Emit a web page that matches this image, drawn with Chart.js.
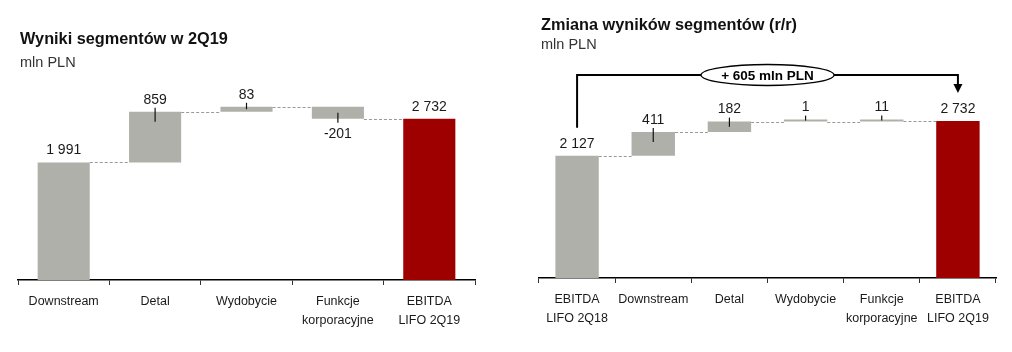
<!DOCTYPE html>
<html>
<head>
<meta charset="utf-8">
<script src="https://cdn.jsdelivr.net/npm/chart.js@4"></script>
<style>
  body { margin: 0; background: #fff; font-family: "Liberation Sans", Arial, sans-serif; }
  .panel { position: absolute; top: 0; height: 352px; }
  .title { position: absolute; font-weight: bold; font-size: 16.3px; color: #111; white-space: nowrap; }
  .sub { position: absolute; font-size: 14.5px; color: #333; white-space: nowrap; }
</style>
</head>
<body>
<div class="panel" style="left:0;width:500px"><canvas id="leftChart"></canvas></div>
<div class="panel" style="left:520px;width:492px"><canvas id="rightChart"></canvas></div>
<div class="title" style="left:20px;top:29px">Wyniki segmentów w 2Q19</div>
<div class="sub" style="left:20px;top:54px">mln PLN</div>
<div class="title" style="left:541px;top:15px">Zmiana wyników segmentów (r/r)</div>
<div class="sub" style="left:541px;top:36px">mln PLN</div>
<script>
const leftCategories = ['Downstream', 'Detal', 'Wydobycie', ['Funkcje', 'korporacyjne'], ['EBITDA', 'LIFO 2Q19']];
const leftValues = [1991, 859, 83, -201, 2732];
const leftKinds = ['total', 'delta', 'delta', 'delta', 'total'];

const rightCategories = [['EBITDA', 'LIFO 2Q18'], 'Downstream', 'Detal', 'Wydobycie', ['Funkcje', 'korporacyjne'], ['EBITDA', 'LIFO 2Q19']];
const rightValues = [2127, 411, 182, 1, 11, 2732];
const rightKinds = ['total', 'delta', 'delta', 'delta', 'delta', 'total'];
const rightChangeLabel = '+ 605 mln PLN';

const GRAY = '#b0b0aa';
const RED = '#9e0000';
const FONT = '"Liberation Sans", Arial, sans-serif';

function buildBars(values, kinds) {
  let cum = 0;
  return values.map((v, i) => {
    if (kinds[i] === 'total') { cum = v; return [0, v]; }
    const start = cum;
    cum += v;
    return [start, cum];
  });
}

function fmt(v) {
  const s = String(Math.abs(v)).replace(/\B(?=(\d{3})+(?!\d))/g, ' ');
  return (v < 0 ? '-' : '') + s;
}

const waterfallPlugin = {
  id: 'waterfall',
  afterDatasetsDraw(chart, args, opts) {
    const { ctx } = chart;
    const y = chart.scales.y;
    const meta = chart.getDatasetMeta(0);
    const bars = chart.data.datasets[0].data;
    const els = meta.data;
    ctx.save();

    // dashed connectors between bars
    ctx.strokeStyle = '#999';
    ctx.lineWidth = 1;
    ctx.setLineDash([3, 2]);
    for (let i = 0; i < els.length - 1; i++) {
      const a = els[i], b = els[i + 1];
      const py = Math.round(y.getPixelForValue(bars[i][1])) + 0.5;
      ctx.beginPath();
      ctx.moveTo(a.x + a.width / 2, py);
      ctx.lineTo(b.x - b.width / 2, py);
      ctx.stroke();
    }
    ctx.setLineDash([]);

    // value labels + tick marks
    ctx.font = '14px ' + FONT;
    ctx.fillStyle = '#1a1a1a';
    ctx.textAlign = 'center';
    ctx.textBaseline = 'middle';
    ctx.strokeStyle = '#111';
    ctx.lineWidth = 1.2;
    els.forEach((el, i) => {
      const v = opts.values[i];
      const top = Math.min(el.y, el.base);
      const bottom = Math.max(el.y, el.base);
      const h = bottom - top;
      const inside = Math.max(1, Math.min(10, h / 2));
      if (v >= 0) {
        ctx.fillText(fmt(v), el.x, top - 12);
        if (opts.kinds[i] === 'delta') {
          ctx.beginPath();
          ctx.moveTo(el.x, top - 4);
          ctx.lineTo(el.x, top + inside);
          ctx.stroke();
        }
      } else {
        ctx.fillText(fmt(v), el.x, bottom + 15);
        ctx.beginPath();
        ctx.moveTo(el.x, bottom + 4);
        ctx.lineTo(el.x, bottom - inside);
        ctx.stroke();
      }
    });

    // change bracket over the chart
    if (opts.bracket) {
      const first = els[0], last = els[els.length - 1];
      const firstTop = Math.min(first.y, first.base);
      const lastTop = Math.min(last.y, last.base);
      const by = chart.chartArea.top - 19;
      const tipY = lastTop - 28;
      ctx.strokeStyle = '#000';
      ctx.fillStyle = '#000';
      ctx.lineWidth = 2;
      ctx.beginPath();
      ctx.moveTo(first.x, firstTop - 28);
      ctx.lineTo(first.x, by);
      ctx.lineTo(last.x, by);
      ctx.lineTo(last.x, tipY - 8);
      ctx.stroke();
      ctx.beginPath();
      ctx.moveTo(last.x - 4.5, tipY - 9);
      ctx.lineTo(last.x + 4.5, tipY - 9);
      ctx.lineTo(last.x, tipY);
      ctx.closePath();
      ctx.fill();

      const cx = (chart.chartArea.left + chart.chartArea.right) / 2;
      ctx.beginPath();
      ctx.ellipse(cx, by, 66.5, 10.5, 0, 0, Math.PI * 2);
      ctx.fillStyle = '#fff';
      ctx.fill();
      ctx.lineWidth = 1.3;
      ctx.stroke();
      ctx.fillStyle = '#000';
      ctx.font = 'bold 13.5px ' + FONT;
      ctx.fillText(opts.bracket, cx, by + 1);
    }
    ctx.restore();
  }
};

function makeChart(id, categories, values, kinds, pad, axisHeight, bracket) {
  const bars = buildBars(values, kinds);
  const colors = values.map((v, i) => (i === values.length - 1 ? RED : GRAY));
  return new Chart(document.getElementById(id), {
    type: 'bar',
    data: {
      labels: categories,
      datasets: [{
        data: bars,
        backgroundColor: colors,
        borderWidth: 0,
        minBarLength: 2,
        barPercentage: 0.57,
        categoryPercentage: 1,
      }],
    },
    options: {
      responsive: true,
      maintainAspectRatio: false,
      animation: false,
      layout: { padding: pad },
      plugins: {
        legend: { display: false },
        tooltip: { enabled: false },
        waterfall: { values, kinds, bracket },
      },
      scales: {
        x: {
          afterFit: (scale) => { scale.height = axisHeight; },
          grid: {
            offset: true,
            drawOnChartArea: false,
            drawTicks: true,
            tickLength: 5,
            color: '#333',
          },
          border: { display: true, color: '#000', width: 1.5 },
          ticks: {
            color: '#1a1a1a',
            padding: 7,
            maxRotation: 0,
            autoSkip: false,
            font: { family: FONT, size: 12.5, lineHeight: 1.5 },
          },
        },
        y: { display: false, min: 0, max: 3200 },
      },
    },
    plugins: [waterfallPlugin],
  });
}

makeChart('leftChart', leftCategories, leftValues, leftKinds,
  { left: 18, right: 25, top: 91, bottom: 0 }, 72, null);
makeChart('rightChart', rightCategories, rightValues, rightKinds,
  { left: 19, right: 16, top: 94, bottom: 0 }, 74, rightChangeLabel);
</script>
</body>
</html>
